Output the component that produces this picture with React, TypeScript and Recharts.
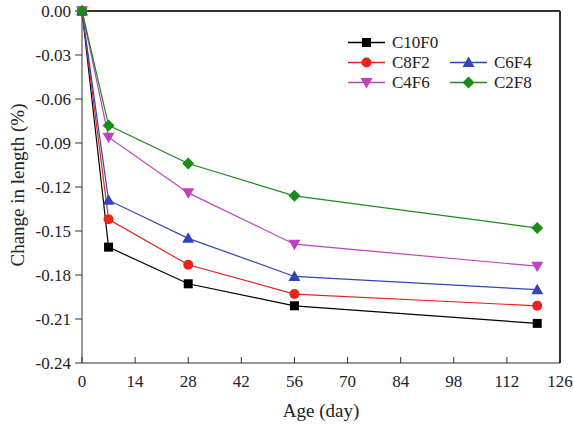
import React from 'react';
import { LineChart, Line, XAxis, YAxis, ReferenceLine, Label } from 'recharts';

const DAYS = [0, 7, 28, 56, 120];
const C10F0 = [0, -0.161, -0.186, -0.201, -0.213];
const C8F2 = [0, -0.142, -0.173, -0.193, -0.201];
const C6F4 = [0, -0.129, -0.155, -0.181, -0.19];
const C4F6 = [0, -0.086, -0.124, -0.159, -0.174];
const C2F8 = [0, -0.078, -0.104, -0.126, -0.148];

const X_TICKS = [0, 14, 28, 42, 56, 70, 84, 98, 112, 126];
const Y_TICKS = [0, -0.03, -0.06, -0.09, -0.12, -0.15, -0.18, -0.21, -0.24];

const SERIES = [
  { key: 'C10F0', values: C10F0, color: '#000000', shape: 'square' },
  { key: 'C8F2', values: C8F2, color: '#e8231e', shape: 'circle' },
  { key: 'C6F4', values: C6F4, color: '#3344bb', shape: 'up' },
  { key: 'C4F6', values: C4F6, color: '#c040c0', shape: 'down' },
  { key: 'C2F8', values: C2F8, color: '#1a8c1a', shape: 'diamond' },
];

const data = DAYS.map((d, i) => {
  const row: any = { day: d };
  SERIES.forEach((s) => {
    row[s.key] = s.values[i];
  });
  return row;
});

const FONT = "'Liberation Serif', 'Times New Roman', serif";

function Marker({ shape, cx, cy, color }: any) {
  if (cx == null || cy == null) return null;
  switch (shape) {
    case 'square':
      return <rect x={cx - 4.5} y={cy - 4.5} width={9} height={9} fill={color} />;
    case 'circle':
      return <circle cx={cx} cy={cy} r={5} fill={color} />;
    case 'up':
      return <polygon points={`${cx},${cy - 6} ${cx + 6},${cy + 4.5} ${cx - 6},${cy + 4.5}`} fill={color} />;
    case 'down':
      return <polygon points={`${cx},${cy + 6} ${cx + 6},${cy - 4.5} ${cx - 6},${cy - 4.5}`} fill={color} />;
    default:
      return <polygon points={`${cx},${cy - 6} ${cx + 6},${cy} ${cx},${cy + 6} ${cx - 6},${cy}`} fill={color} />;
  }
}

const XTick = (props: any) => {
  const { x, y, payload } = props;
  return (
    <g>
      <line x1={x} x2={x} y1={y} y2={y - 6} stroke="#333" strokeWidth={1} />
      <text x={x} y={y + 24} textAnchor="middle" fontFamily={FONT} fontSize={17} fill="#222">
        {payload.value}
      </text>
    </g>
  );
};

const XLabel = (props: any) => {
  const vb = props.viewBox || { x: 82, y: 363, width: 478, height: 64 };
  return (
    <text x={vb.x + vb.width / 2} y={vb.y + 54} textAnchor="middle" fontFamily={FONT} fontSize={19} fill="#222">
      Age (day)
    </text>
  );
};

const YLabel = (props: any) => {
  const vb = props.viewBox || { x: 0, y: 11, width: 82, height: 352 };
  const cx = 17;
  const cy = vb.y + vb.height / 2 - 2;
  return (
    <text
      x={cx}
      y={cy}
      textAnchor="middle"
      dominantBaseline="central"
      transform={`rotate(-90, ${cx}, ${cy})`}
      fontFamily={FONT}
      fontSize={19}
      fill="#222"
    >
      Change in length (%)
    </text>
  );
};

const LegendOverlay = () => {
  const rows = [
    [SERIES[0]],
    [SERIES[1], SERIES[2]],
    [SERIES[3], SERIES[4]],
  ];
  const rowY = [12.5, 32.5, 52.5];
  const colX = [8, 110];
  return (
    <svg width={230} height={70} style={{ position: 'absolute', left: 340, top: 30 }}>
      {rows.map((r, ri) =>
        r.map((s, ci) => {
          const x0 = colX[ci];
          const y = rowY[ri];
          return (
            <g key={s.key}>
              <line x1={x0} x2={x0 + 37} y1={y} y2={y} stroke={s.color} strokeWidth={1.3} />
              <Marker shape={s.shape} cx={x0 + 18.5} cy={y} color={s.color} />
              <text x={x0 + 44} y={y} dominantBaseline="central" fontFamily={FONT} fontSize={17} fill="#222">
                {s.key}
              </text>
            </g>
          );
        })
      )}
    </svg>
  );
};

export default function App() {
  return (
    <div style={{ position: 'absolute', left: 0, top: 0, width: 573, height: 427, background: '#fff' }}>
      <LineChart width={573} height={427} data={data} margin={{ top: 11, right: 13, bottom: 0, left: 0 }}>
        <XAxis
          dataKey="day"
          type="number"
          domain={[0, 126]}
          ticks={X_TICKS}
          interval={0}
          height={64}
          tickSize={0}
          tickMargin={0}
          tickLine={false}
          tick={<XTick />}
          axisLine={{ stroke: '#333', strokeWidth: 1 }}
          label={<Label content={<XLabel />} />}
        />
        <YAxis
          type="number"
          domain={[-0.24, 0]}
          ticks={Y_TICKS}
          interval={0}
          width={82}
          tickSize={7}
          tickMargin={4}
          tickFormatter={(v: number) => v.toFixed(2)}
          tick={{ fontFamily: FONT, fontSize: 17, fill: '#222' }}
          tickLine={{ stroke: '#333' }}
          axisLine={{ stroke: '#333', strokeWidth: 1 }}
          label={<Label content={<YLabel />} />}
        />
        <ReferenceLine y={0} stroke="#333" strokeWidth={2} ifOverflow="extendDomain" />
        <ReferenceLine x={126} stroke="#333" strokeWidth={2} ifOverflow="extendDomain" />
        {SERIES.map((s) => (
          <Line
            key={s.key}
            dataKey={s.key}
            type="linear"
            stroke={s.color}
            strokeWidth={1.2}
            isAnimationActive={false}
            dot={(p: any) => <Marker key={`${s.key}-${p.index}`} shape={s.shape} cx={p.cx} cy={p.cy} color={s.color} />}
            activeDot={false}
          />
        ))}
      </LineChart>
      <LegendOverlay />
    </div>
  );
}
